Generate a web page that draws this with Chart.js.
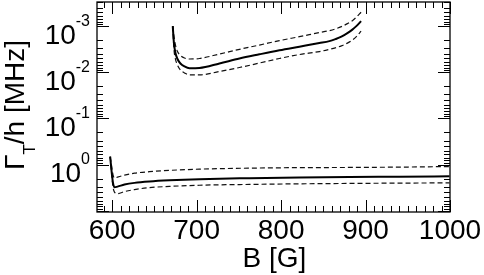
<!DOCTYPE html>
<html><head><meta charset="utf-8">
<script src="https://cdn.jsdelivr.net/npm/chart.js@4"></script>
<style>html,body{margin:0;padding:0;background:#fff}canvas{display:block}</style>
</head><body>
<canvas id="c" width="484" height="275"></canvas>
<script>
// ---- data ----
const bTop        = [671.7, 673.1, 674.9, 677.3, 680.8, 685.6, 691.5, 703.3, 727, 750.7, 774.3, 798, 821.7, 845.3, 857.2, 864.3, 871.4, 878.5, 884.4, 889.1, 894.7];
const topSolid    = [1.0e-3, 2.33e-3, 3.83e-3, 5.15e-3, 6.44e-3, 7.48e-3, 8.18e-3, 8.07e-3, 6.44e-3, 5.02e-3, 4.08e-3, 3.34e-3, 2.79e-3, 2.33e-3, 2.11e-3, 1.91e-3, 1.69e-3, 1.42e-3, 1.19e-3, 1.0e-3, 7.8e-4];
const topUpper    = [1.0e-3, 1.64e-3, 2.57e-3, 3.55e-3, 4.34e-3, 4.91e-3, 5.15e-3, 5.02e-3, 4.02e-3, 3.18e-3, 2.57e-3, 2.06e-3, 1.69e-3, 1.38e-3, 1.25e-3, 1.15e-3, 1.025e-3, 8.83e-4, 7.61e-4, 6.4e-4, 4.99e-4];
const topLower    = [1.0e-3, 3.13e-3, 5.15e-3, 6.95e-3, 8.91e-3, 1.03e-2, 1.14e-2, 1.14e-2, 9.6e-3, 7.87e-3, 6.30e-3, 5.02e-3, 4.12e-3, 3.55e-3, 3.18e-3, 2.95e-3, 2.68e-3, 2.33e-3, 2.0e-3, 1.69e-3, 1.28e-3];
const bBottom     = [597.6, 599.2, 600.9, 602.7, 606.3, 614.6, 626.4, 644.1, 667.8, 703.3, 762.5, 821.7, 880.9, 940, 999.4];
const bottomSolid = [0.672, 1.35, 2.45, 3.09, 2.99, 2.70, 2.48, 2.31, 2.18, 2.06, 1.96, 1.89, 1.84, 1.82, 1.79];
const bottomUpper = [0.672, 1.05, 1.64, 1.94, 1.86, 1.69, 1.53, 1.42, 1.33, 1.25, 1.19, 1.16, 1.15, 1.13, 1.10];
const bottomLower = [0.672, 1.49, 2.99, 3.93, 4.23, 3.83, 3.47, 3.14, 2.96, 2.79, 2.68, 2.60, 2.55, 2.51, 2.48];
const xTickValues = [600, 700, 800, 900, 1000];
const xTickLabels = ['600', '700', '800', '900', '1000'];
const yTickValues = [1e-3, 1e-2, 1e-1, 1];
const yTickExponents = ['-3', '-2', '-1', '0'];
const xTitle = 'B [G]';
const yTitleMain = '\u0393', yTitleSub = 'T', yTitleRest = '/h [MHz]';

const pts = (xs, ys) => xs.map((x, i) => ({x: x, y: ys[i]}));
const FONT = '"Liberation Sans", Arial, Helvetica, sans-serif';

const framePlugin = {
  id: 'frame',
  afterDraw(chart) {
    const ctx = chart.ctx, a = chart.chartArea;
    const xs = chart.scales.x, ys = chart.scales.y;
    ctx.save();
    ctx.strokeStyle = '#000';
    ctx.fillStyle = '#000';
    ctx.lineWidth = 1.3;
    ctx.strokeRect(a.left, a.top, a.right - a.left, a.bottom - a.top);
    ctx.lineWidth = 1;
    const MAJ = 12, MIN = 6;
    // x ticks (inward, bottom and top)
    for (let v = 590; v <= 1000; v += 10) {
      if (v < xs.min || v > xs.max) continue;
      const px = Math.round(xs.getPixelForValue(v)) + 0.5;
      const len = (v % 100 === 0) ? MAJ : MIN;
      ctx.beginPath();
      ctx.moveTo(px, a.bottom); ctx.lineTo(px, a.bottom - len);
      ctx.moveTo(px, a.top); ctx.lineTo(px, a.top + len);
      ctx.stroke();
    }
    // y ticks (inward, left and right)
    for (let k = -4; k <= 1; k++) {
      for (let m = 1; m <= 9; m++) {
        const v = m * Math.pow(10, k);
        if (v < ys.min || v > ys.max) continue;
        const py = Math.round(ys.getPixelForValue(v)) + 0.5;
        const len = (m === 1) ? MAJ : MIN;
        ctx.beginPath();
        ctx.moveTo(a.left, py); ctx.lineTo(a.left + len, py);
        ctx.moveTo(a.right, py); ctx.lineTo(a.right - len, py);
        ctx.stroke();
      }
    }
    // x tick labels
    ctx.font = '28px ' + FONT;
    ctx.textAlign = 'center';
    ctx.textBaseline = 'alphabetic';
    xTickValues.forEach((v, i) => {
      ctx.fillText(xTickLabels[i], xs.getPixelForValue(v), 238.5);
    });
    // y tick labels 10^n
    ctx.textAlign = 'left';
    const rightEdge = 90;
    yTickValues.forEach((v, i) => {
      const py = ys.getPixelForValue(v);
      ctx.font = '16px ' + FONT;
      const w2 = ctx.measureText(yTickExponents[i]).width;
      ctx.font = '28px ' + FONT;
      const w1 = ctx.measureText('10').width;
      ctx.fillText('10', rightEdge - w2 - w1, py + 17.5);
      ctx.font = '16px ' + FONT;
      ctx.fillText(yTickExponents[i], rightEdge - w2, py - 0.5);
    });
    // x title
    ctx.font = '28px ' + FONT;
    ctx.textAlign = 'center';
    ctx.fillText(xTitle, (a.left + a.right) / 2 + 1, 267);
    // y title (rotated)
    ctx.textAlign = 'left';
    ctx.font = '28px ' + FONT;
    const wM = ctx.measureText(yTitleMain).width;
    const wR = ctx.measureText(yTitleRest).width;
    ctx.font = '17px ' + FONT;
    const wS = ctx.measureText(yTitleSub).width;
    const total = wM + wS + wR;
    ctx.translate(24, 105 + total / 2);
    ctx.rotate(-Math.PI / 2);
    ctx.font = '28px ' + FONT;
    ctx.fillText(yTitleMain, 0, 0);
    ctx.font = '17px ' + FONT;
    ctx.fillText(yTitleSub, wM, 11);
    ctx.font = '28px ' + FONT;
    ctx.fillText(yTitleRest, wM + wS, 0);
    ctx.restore();
  }
};

const solid = {borderColor: '#000', borderWidth: 2, pointRadius: 0, fill: false, cubicInterpolationMode: 'monotone'};
const dashed = {borderColor: '#111', borderWidth: 1.2, borderDash: [5, 3], pointRadius: 0, fill: false, cubicInterpolationMode: 'monotone'};

new Chart(document.getElementById('c'), {
  type: 'line',
  data: {
    datasets: [
      Object.assign({label: 'top', data: pts(bTop, topSolid)}, solid),
      Object.assign({label: 'top upper', data: pts(bTop, topUpper)}, dashed),
      Object.assign({label: 'top lower', data: pts(bTop, topLower)}, dashed),
      Object.assign({label: 'bottom', data: pts(bBottom, bottomSolid)}, solid),
      Object.assign({label: 'bottom upper', data: pts(bBottom, bottomUpper)}, dashed),
      Object.assign({label: 'bottom lower', data: pts(bBottom, bottomLower)}, dashed)
    ]
  },
  options: {
    responsive: false,
    devicePixelRatio: 1,
    animation: false,
    layout: {padding: {left: 97, right: 34, top: 2, bottom: 63}},
    plugins: {legend: {display: false}, tooltip: {enabled: false}},
    scales: {
      x: {type: 'linear', min: 582, max: 1000, display: false},
      y: {type: 'logarithmic', reverse: true, min: 3.2e-4, max: 10.6, display: false}
    }
  },
  plugins: [framePlugin]
});
</script>
</body></html>
